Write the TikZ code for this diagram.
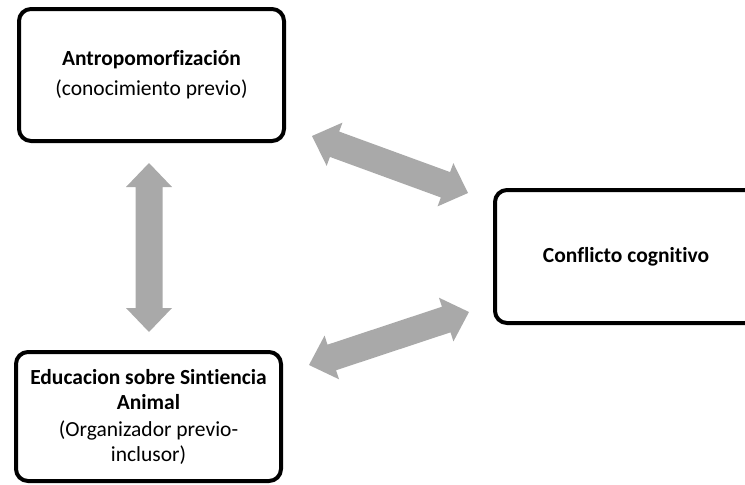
\documentclass[tikz,border=0pt]{standalone}
\usepackage{fontspec}
\setmainfont{Carlito}[Ligatures=NoCommon]
\usetikzlibrary{calc}
\definecolor{arrowgray}{HTML}{A9A9A9}
\newcommand{\blockarrow}[2]{%
  \fill[arrowgray] (#1)
    -- ($(#1)!24pt!(#2)!23pt!90:(#2)$)
    -- ($(#1)!24pt!(#2)!13.5pt!90:(#2)$)
    -- ($(#2)!24pt!(#1)!13.5pt!-90:(#1)$)
    -- ($(#2)!24pt!(#1)!23pt!-90:(#1)$)
    -- (#2)
    -- ($(#2)!24pt!(#1)!23pt!90:(#1)$)
    -- ($(#2)!24pt!(#1)!13.5pt!90:(#1)$)
    -- ($(#1)!24pt!(#2)!13.5pt!-90:(#2)$)
    -- ($(#1)!24pt!(#2)!23pt!-90:(#2)$)
    -- cycle;}
\begin{document}
\begin{tikzpicture}[x=1pt,y=-1pt,
  box/.style={draw=black, line width=4pt, rounded corners=12pt, inner sep=0pt,
    align=center, font=\fontsize{21.5}{25}\selectfont}]
\useasboundingbox (0,0) rectangle (745,485);
\node[box, minimum width=265pt, minimum height=132pt] (antro) at (151.5,75)
  {\textbf{Antropomorfización}\\[5pt](conocimiento previo)};
\node[box, minimum width=262pt, minimum height=133pt] (conflict) at (626,256.5)
  {\textbf{Conflicto cognitivo}};
\node[box, minimum width=265pt, minimum height=129pt] (edu) at (148.5,416.5)
  {\textbf{Educacion sobre Sintiencia}\\\textbf{Animal}\\[2pt](Organizador previo-\\inclusor)};
\coordinate (v1) at (149,163);
\coordinate (v2) at (149,332);
\coordinate (d1a) at (312,136);
\coordinate (d1b) at (468,193);
\coordinate (d2a) at (309,365);
\coordinate (d2b) at (469,312);
\blockarrow{v1}{v2}
\blockarrow{d1a}{d1b}
\blockarrow{d2a}{d2b}
\end{tikzpicture}
\end{document}
